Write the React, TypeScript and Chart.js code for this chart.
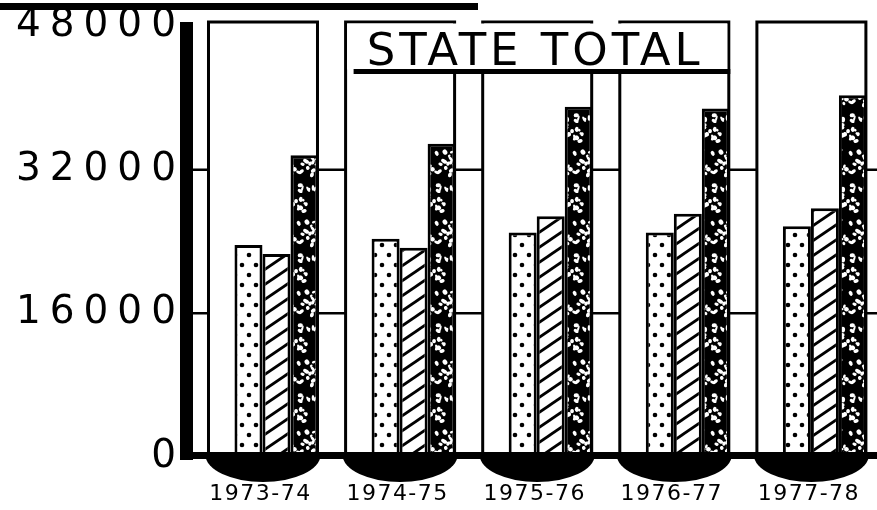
import React, { useEffect, useRef } from 'react';
import { Chart, registerables } from 'chart.js';

Chart.register(...registerables);

const categories = ['1973-74', '1974-75', '1975-76', '1976-77', '1977-78'];
const dottedValues = [23600, 24300, 25000, 25000, 25700];
const hatchedValues = [22600, 23300, 26800, 27100, 27700];
const speckledValues = [33600, 34900, 39000, 38800, 40300];
const yTicks = [0, 16000, 32000, 48000];
const titleText = 'STATE TOTAL';

function makePattern(w: number, h: number, draw: (g: CanvasRenderingContext2D) => void) {
  const c = document.createElement('canvas');
  c.width = w;
  c.height = h;
  const g = c.getContext('2d')!;
  draw(g);
  return g.createPattern(c, 'repeat')!;
}

function dotPattern() {
  return makePattern(14, 20, (g) => {
    g.fillStyle = '#fff';
    g.fillRect(0, 0, 14, 20);
    g.fillStyle = '#000';
    g.beginPath();
    g.arc(4, 5, 2.3, 0, Math.PI * 2);
    g.fill();
    g.beginPath();
    g.arc(11, 15, 2.3, 0, Math.PI * 2);
    g.fill();
  });
}

function hatchPattern() {
  return makePattern(22, 15, (g) => {
    g.fillStyle = '#fff';
    g.fillRect(0, 0, 22, 15);
    g.strokeStyle = '#000';
    g.lineWidth = 2.8;
    for (const k of [-1, 0, 1]) {
      g.beginPath();
      g.moveTo(-4, 15 * (k + 1) + 2.73);
      g.lineTo(26, 15 * k - 2.73);
      g.stroke();
    }
  });
}

function specklePattern() {
  const W = 46;
  const H = 70;
  return makePattern(W, H, (g) => {
    g.fillStyle = '#000';
    g.fillRect(0, 0, W, H);
    g.fillStyle = '#fff';
    let s = 12345;
    const rnd = () => {
      s = (s * 1103515245 + 12345) % 2147483648;
      return s / 2147483648;
    };
    for (let i = 0; i < 60; i++) {
      const cx = rnd() * W;
      const cy = rnd() * H;
      const rx = 0.9 + rnd() * 1.6;
      const ry = 1.3 + rnd() * 2.0;
      const rot = rnd() * Math.PI;
      for (const dx of [-W, 0, W]) {
        for (const dy of [-H, 0, H]) {
          g.beginPath();
          g.ellipse(cx + dx, cy + dy, rx, ry, rot, 0, Math.PI * 2);
          g.fill();
        }
      }
    }
  });
}

const spacingPlugin = {
  id: 'spacing',
  beforeDraw(chart: any) {
    const list: [string, string][] = [['y', '9px'], ['x', '1.5px']];
    for (const [id, sp] of list) {
      const s: any = chart.scales[id];
      if (s && !s.__spaced) {
        const orig = s.drawLabels;
        s.drawLabels = function (area: any) {
          const c: any = this.ctx;
          const prev = c.letterSpacing;
          c.letterSpacing = sp;
          orig.call(this, area);
          c.letterSpacing = prev || '0px';
        };
        s.__spaced = true;
      }
    }
  },
};

function panelsOf(chart: any) {
  const x = chart.scales.x;
  return categories.map((_, i) => {
    const c = x.getPixelForValue(i);
    return { l: c - 68, r: c + 41 };
  });
}

const decorPlugin = {
  id: 'decor',
  beforeDatasetsDraw(chart: any) {
    const { ctx, chartArea, scales } = chart;
    const { left, right, top, bottom } = chartArea;
    const y = scales.y;
    ctx.save();
    ctx.strokeStyle = '#000';
    ctx.lineWidth = 2.5;
    for (const v of yTicks.slice(1, 3)) {
      const py = y.getPixelForValue(v);
      ctx.beginPath();
      ctx.moveTo(left, py);
      ctx.lineTo(right, py);
      ctx.stroke();
    }
    const panels = panelsOf(chart);
    for (const p of panels) {
      ctx.fillStyle = '#fff';
      ctx.fillRect(p.l, top - 4, p.r - p.l, bottom - top + 4);
      ctx.lineWidth = 3;
      ctx.beginPath();
      ctx.moveTo(p.l, bottom);
      ctx.lineTo(p.l, top - 4);
      ctx.lineTo(p.r, top - 4);
      ctx.lineTo(p.r, bottom);
      ctx.stroke();
    }
    const bl = panels[1].l;
    const br = panels[3].r;
    ctx.fillStyle = '#fff';
    ctx.fillRect(bl + 1.5, top - 2.5, br - bl - 3, 46);
    ctx.fillStyle = '#000';
    ctx.fillRect(bl + 8, top + 43, br - bl - 6.5, 5);
    ctx.font = '45px "DejaVu Sans"';
    (ctx as any).letterSpacing = '4px';
    ctx.textAlign = 'center';
    ctx.textBaseline = 'alphabetic';
    ctx.fillText(titleText, (bl + br) / 2 - 2, top + 39);
    (ctx as any).letterSpacing = '0px';
    ctx.fillStyle = '#000';
    ctx.fillRect(left - 13, top - 4, 13, bottom - top + 7);
    ctx.restore();
  },
  afterDatasetsDraw(chart: any) {
    const { ctx, chartArea } = chart;
    const { left, right, bottom } = chartArea;
    ctx.save();
    ctx.fillStyle = '#000';
    ctx.fillRect(left - 13, bottom - 5, right - left + 13, 7);
    for (const p of panelsOf(chart)) {
      ctx.beginPath();
      ctx.ellipse((p.l + p.r) / 2, bottom - 2, (p.r - p.l) / 2 + 3, 27, 0, 0, Math.PI);
      ctx.fill();
    }
    ctx.fillRect(0, 3, 478, 7);
    ctx.restore();
  },
};

export default function App() {
  const ref = useRef<HTMLCanvasElement>(null);
  useEffect(() => {
    document.body.style.margin = '0';
    const dots = dotPattern();
    const hatch = hatchPattern();
    const speck = specklePattern();
    const common = {
      borderColor: '#000',
      borderWidth: 3,
      borderSkipped: 'bottom' as const,
      categoryPercentage: 0.613,
      barPercentage: 1,
    };
    const chart = new Chart(ref.current!, {
      type: 'bar',
      data: {
        datasets: [
          { label: 'dotted', data: dottedValues.map((v, i) => ({ x: i, y: v })), backgroundColor: dots, ...common },
          { label: 'hatched', data: hatchedValues.map((v, i) => ({ x: i, y: v })), backgroundColor: hatch, ...common },
          { label: 'speckled', data: speckledValues.map((v, i) => ({ x: i, y: v })), backgroundColor: speck, ...common },
        ] as any,
      },
      options: {
        animation: false,
        responsive: false,
        maintainAspectRatio: false,
        layout: { padding: { top: 26, left: 0, right: 0, bottom: 0 } },
        plugins: { legend: { display: false }, tooltip: { enabled: false }, title: { display: false } },
        scales: {
          x: {
            type: 'linear',
            offset: false,
            min: -0.609,
            max: 4.38,
            afterBuildTicks: (s: any) => {
              s.ticks = categories.map((_, i) => ({ value: i }));
            },
            afterFit: (s: any) => {
              s.height = 53;
              s.paddingLeft = 0;
              s.paddingRight = 0;
            },
            ticks: {
              callback: (_v: any, i: number) => categories[i],
              font: { family: 'DejaVu Sans', size: 22 },
              color: '#000',
              padding: 24,
              labelOffset: -16,
              maxRotation: 0,
              autoSkip: false,
            },
            grid: { display: false, drawTicks: false, offset: false },
            border: { display: false },
          },
          y: {
            min: 0,
            max: 48000,
            afterBuildTicks: (s: any) => {
              s.ticks = yTicks.map((v) => ({ value: v }));
            },
            afterFit: (s: any) => {
              s.width = 193;
              s.paddingTop = 0;
              s.paddingBottom = 0;
            },
            ticks: {
              callback: (v: any) => String(v),
              font: { family: 'DejaVu Sans', size: 39 },
              color: '#000',
              padding: 8,
            },
            grid: { display: false, drawTicks: false },
            border: { display: false },
          },
        } as any,
      },
      plugins: [spacingPlugin, decorPlugin],
    });
    return () => chart.destroy();
  }, []);
  return (
    <div style={{ width: 877, height: 510 }}>
      <canvas ref={ref} width={877} height={510} style={{ display: 'block' }} />
    </div>
  );
}
